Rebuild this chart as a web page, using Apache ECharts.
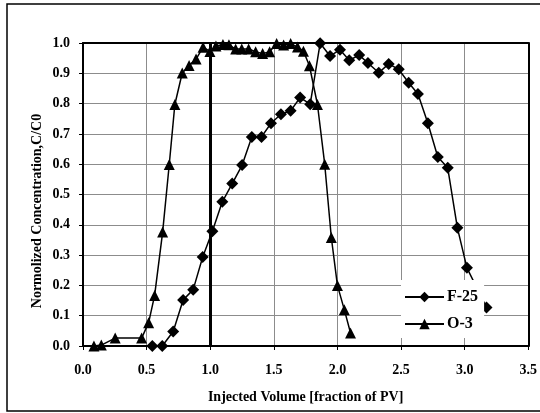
<!DOCTYPE html>
<html>
<head>
<meta charset="utf-8">
<script src="https://cdn.jsdelivr.net/npm/echarts@6/dist/echarts.min.js"></script>
<style>
  html, body { margin: 0; padding: 0; background: #fff; }
  #chart { width: 540px; height: 413px; }
</style>
</head>
<body>
<div id="chart"></div>
<script>
// Breakthrough curves: normalized concentration vs. injected pore volumes
const f25Volume = [0.545, 0.623, 0.709, 0.787, 0.866, 0.941, 1.017, 1.095, 1.173, 1.251, 1.327, 1.403, 1.478, 1.556, 1.632, 1.707, 1.786, 1.864, 1.942, 2.02, 2.093, 2.171, 2.24, 2.325, 2.403, 2.482, 2.56, 2.633, 2.711, 2.789, 2.867, 2.943, 3.018, 3.172];
const f25Conc   = [0, 0, 0.048, 0.152, 0.186, 0.294, 0.379, 0.476, 0.536, 0.597, 0.69, 0.69, 0.735, 0.765, 0.776, 0.82, 0.798, 0.999, 0.957, 0.978, 0.943, 0.96, 0.934, 0.902, 0.931, 0.913, 0.869, 0.832, 0.735, 0.624, 0.588, 0.39, 0.258, 0.127];

const o3Volume = [0.086, 0.144, 0.253, 0.461, 0.516, 0.563, 0.626, 0.678, 0.722, 0.78, 0.834, 0.889, 0.944, 0.998, 1.045, 1.1, 1.147, 1.2, 1.248, 1.302, 1.357, 1.412, 1.467, 1.522, 1.577, 1.632, 1.686, 1.733, 1.78, 1.843, 1.9, 1.952, 2.0, 2.054, 2.103];
const o3Conc   = [0, 0.003, 0.026, 0.026, 0.077, 0.167, 0.376, 0.599, 0.797, 0.901, 0.926, 0.947, 0.986, 0.972, 0.99, 0.995, 0.994, 0.98, 0.98, 0.98, 0.971, 0.965, 0.971, 0.998, 0.993, 0.998, 0.987, 0.973, 0.925, 0.797, 0.6, 0.358, 0.2, 0.12, 0.043];

const seriesNames = ['F-25', 'O-3'];
const onePoreVolume = 1.0;

const xRange = { min: 0, max: 3.5, interval: 0.5 };
const yRange = { min: 0, max: 1.0, interval: 0.1 };
const xTitle = 'Injected Volume [fraction of PV]';
const yTitle = 'Normolized Concentration,C/C0';

const FONT = "'Liberation Serif', 'Times New Roman', serif";

function pairs(xs, ys) {
  return xs.map((x, i) => [x, ys[i]]);
}

const chart = echarts.init(document.getElementById('chart'), null, { renderer: 'canvas' });

const labelStyle = { fontFamily: FONT, fontWeight: 'bold', fontSize: 14, color: '#000' };

chart.setOption({
  animation: false,
  backgroundColor: '#fff',
  grid: { left: 83, right: 9, top: 43, bottom: 67, containLabel: false },
  xAxis: [
    {
      type: 'value', min: xRange.min, max: xRange.max, interval: xRange.interval,
      name: xTitle, nameLocation: 'middle', nameGap: 44,
      nameTextStyle: { fontFamily: FONT, fontWeight: 'bold', fontSize: 14, color: '#000' },
      axisLine: { show: true, onZero: false, lineStyle: { color: '#000', width: 2 } },
      axisTick: { show: true, inside: false, length: 4, lineStyle: { color: '#000', width: 1 } },
      axisLabel: Object.assign({ margin: 17, formatter: v => v.toFixed(1) }, labelStyle),
      splitLine: { show: true, lineStyle: { color: '#8c8c8c', width: 1 } }
    },
    {
      type: 'value', position: 'top', min: xRange.min, max: xRange.max,
      axisLine: { show: true, onZero: false, lineStyle: { color: '#000', width: 2 } },
      axisTick: { show: false }, axisLabel: { show: false }, splitLine: { show: false }
    }
  ],
  yAxis: [
    {
      type: 'value', min: yRange.min, max: yRange.max, interval: yRange.interval,
      axisLine: { show: true, onZero: false, lineStyle: { color: '#000', width: 2 } },
      axisTick: { show: true, inside: false, length: 4, lineStyle: { color: '#000', width: 1 } },
      axisLabel: Object.assign({ margin: 13, formatter: v => v.toFixed(1) }, labelStyle),
      splitLine: { show: true, lineStyle: { color: '#8c8c8c', width: 1 } }
    },
    {
      type: 'value', position: 'right', min: yRange.min, max: yRange.max,
      axisLine: { show: true, onZero: false, lineStyle: { color: '#000', width: 2 } },
      axisTick: { show: false }, axisLabel: { show: false }, splitLine: { show: false }
    }
  ],
  legend: {
    data: seriesNames,
    orient: 'vertical',
    left: 401, top: 280,
    padding: [9, 6, 6, 3],
    itemGap: 11,
    itemWidth: 39, itemHeight: 13,
    backgroundColor: '#fff',
    textStyle: { fontFamily: FONT, fontWeight: 'bold', fontSize: 16, color: '#000', padding: [0, 0, 0, -2] }
  },
  graphic: [
    {
      type: 'rect', silent: true, z: 100,
      shape: { x: 7, y: 4, width: 540, height: 407 },
      style: { fill: 'none', stroke: '#000', lineWidth: 1.5 }
    },
    {
      type: 'text', silent: true,
      x: 37, y: 211, rotation: Math.PI / 2,
      style: {
        text: yTitle, fontFamily: FONT, fontWeight: 'bold', fontSize: 14, fill: '#000',
        textAlign: 'center', textVerticalAlign: 'middle'
      }
    }
  ],
  series: [
    {
      name: seriesNames[0], type: 'line',
      data: pairs(f25Volume, f25Conc),
      symbol: 'diamond', symbolSize: 12,
      lineStyle: { color: '#000', width: 1.5 },
      itemStyle: { color: '#000' },
      z: 3
    },
    {
      name: seriesNames[1], type: 'line',
      data: pairs(o3Volume, o3Conc),
      symbol: 'triangle', symbolSize: 11,
      lineStyle: { color: '#000', width: 1.5 },
      itemStyle: { color: '#000' },
      z: 3,
      markLine: {
        silent: true, symbol: 'none', label: { show: false },
        lineStyle: { color: '#000', width: 3, type: 'solid' },
        data: [{ xAxis: onePoreVolume }]
      }
    }
  ]
});
</script>
</body>
</html>
